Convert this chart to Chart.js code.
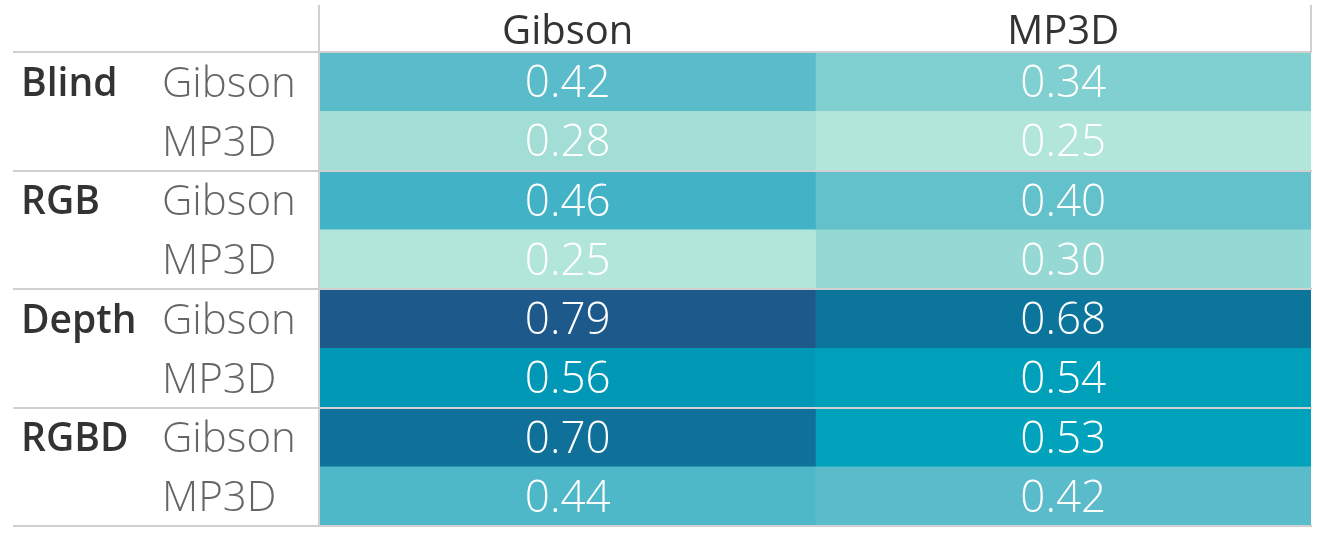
<html><head>
<meta charset="utf-8">
<title>Heatmap</title>
<script src="https://cdn.jsdelivr.net/npm/chart.js"></script>
<style>
body { margin: 0; background: #fff; }
</style>
</head>
<body>
<canvas id="heat" width="1329" height="537"></canvas>
<script>
var groups = ['Blind', 'RGB', 'Depth', 'RGBD'];
var trainSets = ['Gibson', 'MP3D'];
var columns = ['Gibson', 'MP3D'];
var gibsonValues = [0.42, 0.28, 0.46, 0.25, 0.79, 0.56, 0.70, 0.44];
var mp3dValues = [0.34, 0.25, 0.40, 0.30, 0.68, 0.54, 0.53, 0.42];

// colour ramp (value -> colour)
var rampStops = [0.25, 0.30, 0.34, 0.42, 0.46, 0.53, 0.56, 0.68, 0.79];
var rampColors = ['#b3e6da', '#96d9d4', '#80d0d1', '#5abcca', '#42b2c6', '#00a2bc', '#0098b6', '#0c759c', '#1d5a8b'];

function hexToRgb(h) {
    return [parseInt(h.substr(1, 2), 16), parseInt(h.substr(3, 2), 16), parseInt(h.substr(5, 2), 16)];
}
function colorFor(v) {
    if (v <= rampStops[0]) return rampColors[0];
    for (var i = 1; i < rampStops.length; i++) {
        if (v <= rampStops[i]) {
            var t = (v - rampStops[i-1]) / (rampStops[i] - rampStops[i-1]);
            var a = hexToRgb(rampColors[i-1]), b = hexToRgb(rampColors[i]);
            return 'rgb(' + [0, 1, 2].map(function(k) { return Math.round(a[k] + (b[k] - a[k]) * t); }).join(',') + ')';
        }
    }
    return rampColors[rampColors.length - 1];
}

var rowLabels = [];
groups.forEach(function(g) {
    trainSets.forEach(function(s) { rowLabels.push(g + ' ' + s); });
});

var columnValues = [gibsonValues, mp3dValues];
var datasets = columns.map(function(col, c) {
    return {
        label: col,
        data: columnValues[c].map(function() { return [c, c + 1]; }),
        values: columnValues[c],
        backgroundColor: columnValues[c].map(colorFor),
        borderWidth: 0,
        grouped: false,
        barPercentage: 1,
        categoryPercentage: 1
    };
});

var FONT = '"Open Sans", "DejaVu Sans", sans-serif';

var tablePlugin = {
    id: 'tablePlugin',
    afterDatasetsDraw: function(chart) {
        var ctx = chart.ctx;
        var area = chart.chartArea;
        var yScale = chart.scales.y;
        var xScale = chart.scales.x;
        var rowH = yScale.getPixelForValue(1) - yScale.getPixelForValue(0);
        ctx.save();

        // value labels
        ctx.textAlign = 'center';
        ctx.textBaseline = 'middle';
        ctx.fillStyle = '#ffffff';
        ctx.font = '300 44px ' + FONT;
        chart.data.datasets.forEach(function(ds, d) {
            var meta = chart.getDatasetMeta(d);
            meta.data.forEach(function(bar, i) {
                ctx.fillText(ds.values[i].toFixed(2), (bar.x + bar.base) / 2, bar.y + 3);
            });
        });

        // column headers
        ctx.fillStyle = '#333333';
        ctx.font = '400 40px ' + FONT;
        columns.forEach(function(col, c) {
            ctx.fillText(col, xScale.getPixelForValue(c + 0.5), 33);
        });

        // row labels
        ctx.textAlign = 'left';
        rowLabels.forEach(function(lbl, i) {
            var y = yScale.getPixelForValue(i) + 3;
            var s = i % trainSets.length;
            if (s === 0) {
                ctx.fillStyle = '#333333';
                ctx.font = '600 39px ' + FONT;
                ctx.fillText(groups[Math.floor(i / trainSets.length)], 21, y);
            }
            ctx.fillStyle = '#666666';
            ctx.font = '300 42px ' + FONT;
            ctx.fillText(trainSets[s], 162, y);
        });

        // rules
        ctx.strokeStyle = '#d0d0d0';
        ctx.lineWidth = 2;
        ctx.beginPath();
        ctx.moveTo(area.left - 1, 5);
        ctx.lineTo(area.left - 1, area.bottom);
        ctx.moveTo(area.right, 5);
        ctx.lineTo(area.right, area.top);
        for (var g = 0; g <= groups.length; g++) {
            var yy = Math.round(area.top + g * rowH * trainSets.length);
            ctx.moveTo(13, yy);
            ctx.lineTo(area.right + 1, yy);
        }
        ctx.stroke();
        ctx.restore();
    }
};

new Chart(document.getElementById('heat'), {
    type: 'bar',
    data: { labels: rowLabels, datasets: datasets },
    options: {
        indexAxis: 'y',
        responsive: false,
        animation: false,
        devicePixelRatio: 1,
        layout: { padding: { left: 320, top: 52, right: 18, bottom: 11 } },
        scales: {
            x: { type: 'linear', min: 0, max: 2, display: false },
            y: { type: 'category', display: false, offset: true }
        },
        plugins: { legend: { display: false }, tooltip: { enabled: false } }
    },
    plugins: [tablePlugin]
});
</script>
</body></html>
